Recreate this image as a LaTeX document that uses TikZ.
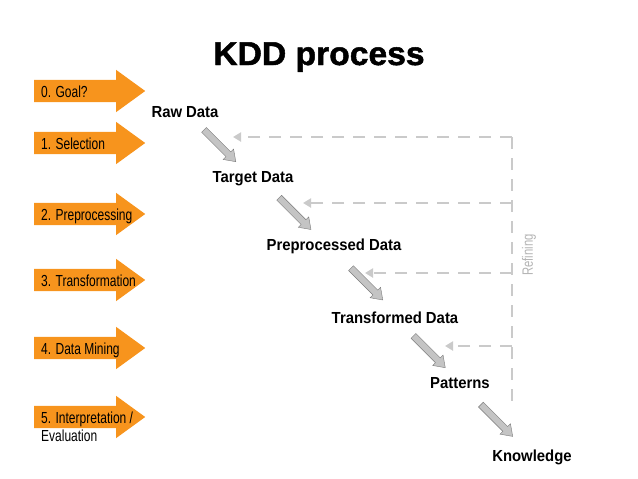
\documentclass[tikz,border=0pt]{standalone}
\usepackage{fontspec}
\setmainfont{Liberation Sans}
\newfontfamily\condfont[FakeStretch=0.75]{Liberation Sans}
\newfontfamily\boldfont[FakeStretch=0.93]{Liberation Sans}
\newfontfamily\titlefont[FakeStretch=1.02,FakeBold=1.5]{Liberation Sans}
\usetikzlibrary{shapes.arrows,arrows.meta}
\definecolor{kddorange}{HTML}{F7941D}
\definecolor{kddgrey}{HTML}{C4C4C4}
\definecolor{kddedge}{HTML}{7A7A7A}
\definecolor{kdddash}{HTML}{CACACA}
\definecolor{kddtext}{HTML}{B4B4B4}

\begin{document}
\begin{tikzpicture}[
	x=1pt, y=-1pt,
	goalarrow/.style={
		single arrow, fill=kddorange, draw=none,
		inner xsep=0pt, inner ysep=11pt,
		single arrow head extend=10pt, single arrow tip angle=72,
		minimum height=111pt, anchor=tail
	},
	goal/.style={anchor=base west, align=left, inner sep=0pt,
		font=\condfont\fontsize{16}{18}\selectfont},
	data/.style={anchor=base,
		font=\boldfont\bfseries\fontsize{16}{19}\selectfont},
	fatarrow/.style={
		single arrow, fill=kddgrey, draw=kddedge, thin,
		inner sep=3.2pt, single arrow head extend=4pt,
		single arrow tip angle=70, minimum height=45pt, rotate=-45
	},
	refine/.style={draw=kdddash, line width=2pt, dash pattern=on 12pt off 9pt},
	feedback/.style={refine, -{Triangle[length=8pt, width=9pt]}},
	]
	\useasboundingbox (0,0) rectangle (638,479);

	\node[anchor=base, font=\titlefont\bfseries\fontsize{33}{38}\selectfont]
		(title) at (319,65) {KDD process};

	\node[goalarrow] (g0) at (34,91) {};
	\node[goalarrow] (g1) at (34,143) {};
	\node[goalarrow] (g2) at (34,214) {};
	\node[goalarrow] (g3) at (34,280) {};
	\node[goalarrow] (g4) at (34,348) {};
	\node[goalarrow] (g5) at (34,417) {};

	\node[goal] (t0) at (41,97) {0. Goal?};
	\node[goal] (t1) at (41,149) {1. Selection};
	\node[goal] (t2) at (41,220) {2. Preprocessing};
	\node[goal] (t3) at (41,286) {3. Transformation};
	\node[goal] (t4) at (41,354) {4. Data Mining};
	\node[goal] (t5) at (41,441) {5. Interpretation /\\Evaluation};

	\node[data] (raw) at (185,117) {Raw Data};
	\node[data] (target) at (253,182) {Target Data};
	\node[data] (prep) at (334,250) {Preprocessed Data};
	\node[data] (trans) at (395,323) {Transformed Data};
	\node[data] (pat) at (460,388) {Patterns};
	\node[data] (know) at (532,461) {Knowledge};

	\path (raw) -- node[fatarrow] (a1) {} (target);
	\path (target) -- node[fatarrow] (a2) {} (prep);
	\path (prep) -- node[fatarrow] (a3) {} (trans);
	\path (trans) -- node[fatarrow] (a4) {} (pat);
	\path (pat) -- node[fatarrow] (a5) {} (know);

	\coordinate (top) at (512,137);
	\coordinate (bottom) at (512,405);
	\coordinate (r2) at (512,203);
	\coordinate (r3) at (512,273);
	\coordinate (r4) at (512,346);
	\coordinate (f1) at (233,137);
	\coordinate (f2) at (303,203);
	\coordinate (f3) at (365,273);
	\coordinate (f4) at (445,346);

	\draw[refine] (top) -- (bottom);
	\draw[feedback] (top) -- (f1);
	\draw[feedback] (r2) -- (f2);
	\draw[feedback] (r3) -- (f3);
	\draw[feedback] (r4) -- (f4);

	\node[rotate=90, text=kddtext, font=\condfont\fontsize{15}{17}\selectfont]
		(refining) at (529,255) {Refining};
\end{tikzpicture}
\end{document}
